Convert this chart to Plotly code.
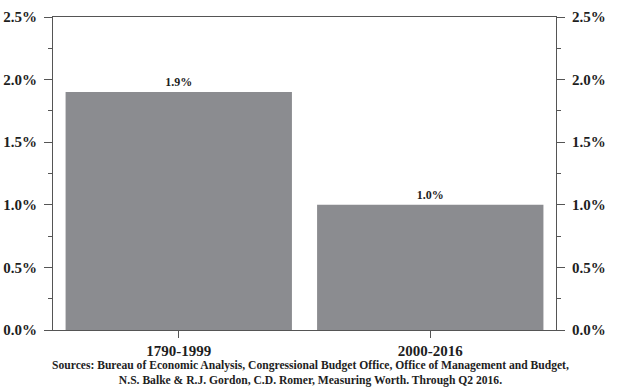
import plotly.graph_objects as go

categories = ["1790-1999", "2000-2016"]
growth = [1.9, 1.0]
y_ticks = [0.0, 0.5, 1.0, 1.5, 2.0, 2.5]
y_tick_labels = ["0.0%", "0.5%", "1.0%", "1.5%", "2.0%", "2.5%"]
source_lines = [
    "Sources: Bureau of Economic Analysis, Congressional Budget Office, Office of Management and Budget,",
    "N.S. Balke &amp; R.J. Gordon, C.D. Romer, Measuring Worth. Through Q2 2016.",
]

FONT = "Liberation Serif"
BAR = "#8b8c90"
INK = "#1e1e1e"
AX = "#555555"

fig = go.Figure()
fig.add_trace(go.Bar(
    x=categories, y=growth, marker=dict(color=BAR, line=dict(width=0)),
    texttemplate="%{y:.1f}%", textposition="outside", cliponaxis=False,
    textfont=dict(family=FONT, size=12, color=INK, weight="bold"),
    hoverinfo="skip", width=0.9,
))
fig.add_trace(go.Scatter(
    x=categories, y=growth, yaxis="y2", mode="markers",
    marker=dict(opacity=0), hoverinfo="skip", showlegend=False,
))

yax = dict(
    range=[0, 2.5], tickvals=y_ticks, ticktext=y_tick_labels,
    ticks="outside", ticklen=8, tickwidth=1.2, tickcolor=AX,
    showline=True, linecolor=AX, linewidth=1.2, showgrid=False, zeroline=False,
    tickfont=dict(family=FONT, size=15, color=INK, weight="bold"),
    ticklabelstandoff=4,
    minor=dict(ticks="outside", ticklen=4, dtick=0.25, tick0=0, tickcolor=AX, tickwidth=1.2, showgrid=False),
    automargin=False,
)
fig.update_layout(
    width=617, height=391,
    margin=dict(l=53, r=61, t=17, b=61),
    paper_bgcolor="white", plot_bgcolor="white",
    showlegend=False, bargap=0.1,
    xaxis=dict(
        showline=True, linecolor=AX, linewidth=1.2, mirror=True,
        ticks="outside", ticklen=7, tickwidth=1.2, tickcolor=AX,
        tickfont=dict(family=FONT, size=15, color=INK, weight="bold"),
        showgrid=False, range=[-0.5, 1.5], automargin=False,
    ),
    yaxis=dict(**yax, side="left"),
    yaxis2=dict(**yax, side="right", overlaying="y"),
    annotations=[dict(
        text="<br>".join(source_lines), xref="paper", yref="paper",
        x=0.511, y=-0.085, xanchor="center", yanchor="top", showarrow=False,
        font=dict(family=FONT, size=11.6, color=INK, weight="bold"), align="center",
    )],
)
fig.write_html("out.html", config={"displayModeBar": False},
               post_script="document.body.style.margin='0';")
